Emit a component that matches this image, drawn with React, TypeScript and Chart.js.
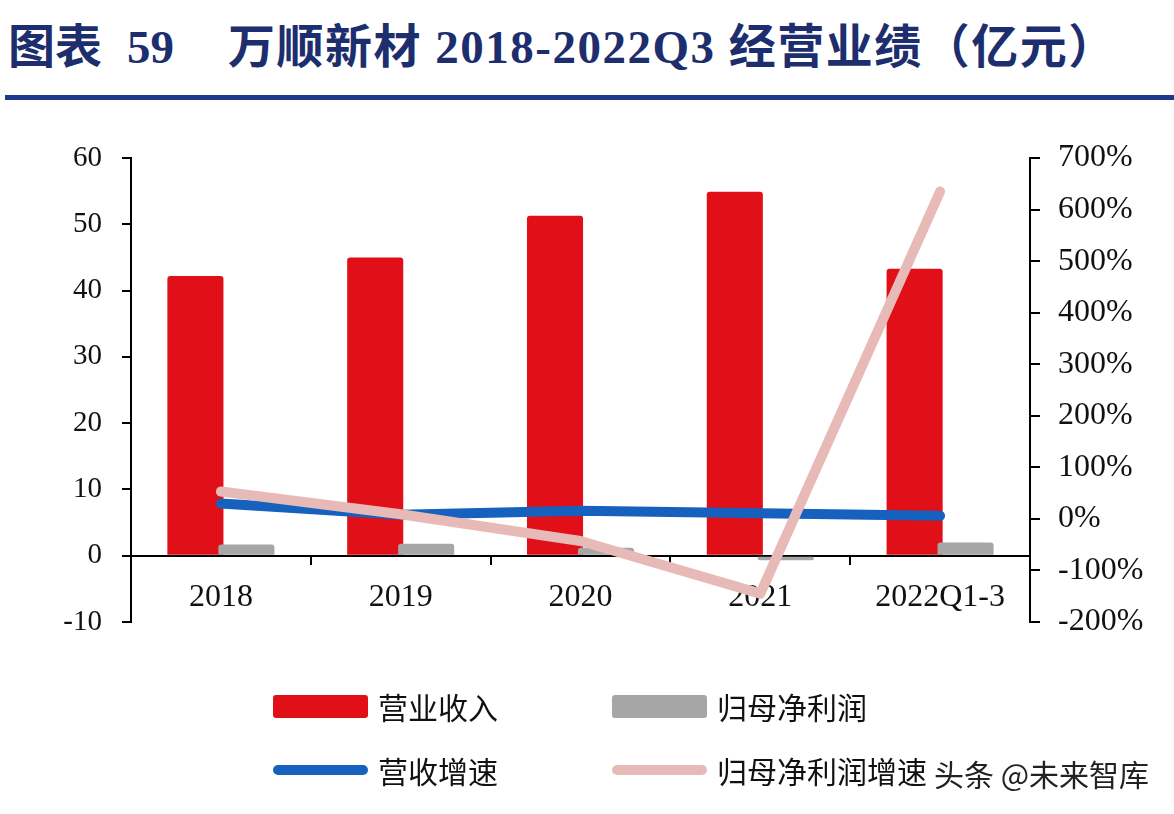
import React, { useEffect, useRef } from "react";
import { Chart, registerables } from "chart.js";

Chart.register(...registerables);

const categories = ["2018", "2019", "2020", "2021", "2022Q1-3"];
const revenue = [42.2, 45.0, 51.3, 54.9, 43.3];
const netProfit = [1.7, 1.8, 1.2, -0.7, 2.0];
const revenueGrowth = [30, 8, 16, 11, 6];
const profitGrowth = [53, 9, -43, -145, 635];
const seriesNames = ["营业收入", "归母净利润", "营收增速", "归母净利润增速"];
const titleParts = ["图表", "59", "万顺新材 2018-2022Q3 经营业绩（亿元）"];
const watermark = "头条 @未来智库";

const RED = "#e10f17";
const GRAY = "#a6a6a6";
const BLUE = "#1660be";
const PINK = "#e8bab7";
const SERIF = "'Liberation Serif', 'Times New Roman', serif";
const CJK = "'Noto Sans CJK SC', sans-serif";

const RED_IDX = 0;
const GRAY_IDX = 1;

const reorderPlugin = {
  id: "reorderBars",
  beforeDatasetDraw(chart: any, args: any) {
    if (args.index === GRAY_IDX) return false;
  },
  afterDatasetDraw(chart: any, args: any) {
    if (args.index === RED_IDX) {
      const meta = chart.getDatasetMeta(GRAY_IDX);
      if (meta && meta.controller) meta.controller.draw();
    }
  },
};

export default function App() {
  const ref = useRef<HTMLCanvasElement | null>(null);

  useEffect(() => {
    if (!ref.current) return;
    const leftFont = { family: SERIF, size: 29 };
    const bigFont = { family: SERIF, size: 32 };
    const chart = new Chart(ref.current, {
      type: "bar",
      data: {
        labels: categories,
        datasets: [
          {
            type: "bar",
            label: seriesNames[0],
            data: revenue,
            backgroundColor: RED,
            yAxisID: "y",
            categoryPercentage: 0.567,
            barPercentage: 1.1,
            borderRadius: 3,
            order: 2,
          },
          {
            type: "bar",
            label: seriesNames[1],
            data: netProfit,
            backgroundColor: GRAY,
            yAxisID: "y",
            categoryPercentage: 0.567,
            barPercentage: 1.1,
            borderRadius: 3,
            order: 2,
          },
          {
            type: "line",
            label: seriesNames[2],
            data: revenueGrowth,
            borderColor: BLUE,
            backgroundColor: BLUE,
            borderWidth: 10,
            pointRadius: 0,
            borderCapStyle: "round",
            borderJoinStyle: "round",
            yAxisID: "y1",
            order: 1,
          },
          {
            type: "line",
            label: seriesNames[3],
            data: profitGrowth,
            borderColor: PINK,
            backgroundColor: PINK,
            borderWidth: 10,
            pointRadius: 0,
            borderCapStyle: "round",
            borderJoinStyle: "round",
            yAxisID: "y1",
            order: 0,
          },
        ] as any,
      },
      options: {
        animation: false,
        responsive: false,
        maintainAspectRatio: false,
        layout: { padding: { top: 158, bottom: 192, left: 0, right: 0 } },
        plugins: {
          legend: { display: false },
          tooltip: { enabled: false },
          title: { display: false },
        },
        scales: {
          x: {
            type: "category",
            position: { y: 0 } as any,
            offset: true,
            grid: {
              display: true,
              drawOnChartArea: false,
              drawTicks: true,
              tickLength: 8,
              color: "#000",
              lineWidth: 2,
              offset: true,
            },
            border: { display: true, color: "#000", width: 2 },
            ticks: {
              font: bigFont,
              color: "#111",
              padding: 15,
              maxRotation: 0,
              autoSkip: false,
            },
          },
          y: {
            position: "left",
            min: -10,
            max: 60,
            ticks: { stepSize: 10, font: leftFont, color: "#111", padding: 20 },
            grid: {
              drawOnChartArea: false,
              drawTicks: true,
              tickLength: 9,
              color: "#000",
              lineWidth: 2,
            },
            border: { display: true, color: "#000", width: 2 },
            afterFit: (s: any) => {
              s.width = 131;
            },
          },
          y1: {
            position: "right",
            min: -200,
            max: 700,
            ticks: {
              stepSize: 100,
              font: bigFont,
              color: "#111",
              padding: 18,
              callback: (v: any) => v + "%",
            },
            grid: {
              drawOnChartArea: false,
              drawTicks: true,
              tickLength: 10,
              color: "#000",
              lineWidth: 2,
            },
            border: { display: true, color: "#000", width: 2 },
            afterFit: (s: any) => {
              s.width = 144;
            },
          },
        },
      } as any,
      plugins: [reorderPlugin as any],
    });
    return () => chart.destroy();
  }, []);

  const legendText: React.CSSProperties = {
    position: "absolute",
    fontFamily: CJK,
    fontSize: 30,
    color: "#111",
    lineHeight: "36px",
    whiteSpace: "nowrap",
  };

  return (
    <div
      style={{
        position: "absolute",
        left: 0,
        top: 0,
        width: 1174,
        height: 814,
        background: "#fff",
        overflow: "hidden",
      }}
    >
      <div
        style={{
          position: "absolute",
          top: 17,
          left: 0,
          width: 1174,
          height: 60,
          fontFamily: `${SERIF}, ${CJK}`,
          fontWeight: "bold",
          fontSize: 47,
          color: "#1d2e6e",
          lineHeight: "60px",
          whiteSpace: "nowrap",
        }}
      >
        <span style={{ position: "absolute", left: 8 }}>{titleParts[0]}</span>
        <span style={{ position: "absolute", left: 127 }}>{titleParts[1]}</span>
        <span style={{ position: "absolute", left: 228, letterSpacing: 1.5 }}>
          {titleParts[2]}
        </span>
      </div>
      <div
        style={{
          position: "absolute",
          top: 95,
          left: 5,
          width: 1169,
          height: 5,
          background: "#1b3a8a",
        }}
      />
      <canvas
        ref={ref}
        width={1174}
        height={814}
        style={{ position: "absolute", left: 0, top: 0, width: 1174, height: 814 }}
      />
      {/* legend */}
      <div
        style={{
          position: "absolute",
          left: 273,
          top: 695,
          width: 95,
          height: 23,
          background: RED,
          borderRadius: 3,
        }}
      />
      <div style={{ ...legendText, left: 378, top: 688 }}>{seriesNames[0]}</div>
      <div
        style={{
          position: "absolute",
          left: 612,
          top: 695,
          width: 95,
          height: 23,
          background: GRAY,
          borderRadius: 3,
        }}
      />
      <div style={{ ...legendText, left: 717, top: 688 }}>{seriesNames[1]}</div>
      <div
        style={{
          position: "absolute",
          left: 273,
          top: 765,
          width: 95,
          height: 10,
          background: BLUE,
          borderRadius: 5,
        }}
      />
      <div style={{ ...legendText, left: 378, top: 752 }}>{seriesNames[2]}</div>
      <div
        style={{
          position: "absolute",
          left: 612,
          top: 765,
          width: 95,
          height: 10,
          background: PINK,
          borderRadius: 5,
        }}
      />
      <div style={{ ...legendText, left: 717, top: 752 }}>{seriesNames[3]}</div>
      <div
        style={{
          position: "absolute",
          left: 934,
          top: 755,
          fontFamily: CJK,
          fontSize: 30,
          color: "#222",
          lineHeight: "36px",
          whiteSpace: "nowrap",
          textShadow: "0 0 2px #fff, 0 0 2px #fff",
        }}
      >
        {watermark}
      </div>
    </div>
  );
}
